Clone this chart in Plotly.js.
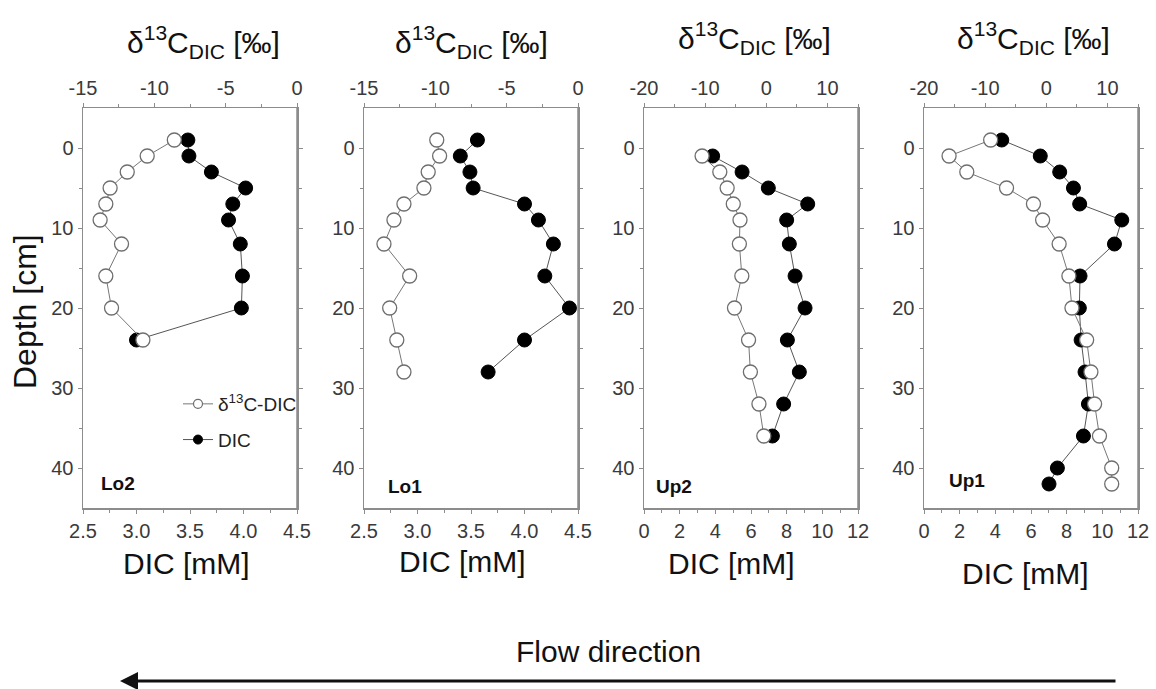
<!DOCTYPE html>
<html>
<head>
<meta charset="utf-8">
<script src="https://cdn.plot.ly/plotly-3.0.1.min.js"></script>
<style>html,body{margin:0;padding:0;background:#fff;}#chart{width:1156px;height:689px;}</style>
</head>
<body>
<div id="chart"></div>
<script>
// ---- data (depth in cm, DIC in mM, delta13C in permil) ----
const panelNames = ["Lo2", "Lo1", "Up2", "Up1"];

const lo2Depth = [-1, 1, 3, 5, 7, 9, 12, 16, 20, 24];
const lo2DIC   = [3.48, 3.49, 3.70, 4.02, 3.90, 3.86, 3.97, 3.99, 3.98, 3.00];
const lo2D13C  = [-8.6, -10.5, -11.9, -13.1, -13.4, -13.8, -12.3, -13.4, -13.0, -10.8];

const lo1Depth = [-1, 1, 3, 5, 7, 9, 12, 16, 20, 24, 28];
const lo1DIC   = [3.56, 3.40, 3.49, 3.52, 4.00, 4.13, 4.27, 4.19, 4.42, 4.00, 3.66];
const lo1D13C  = [-9.9, -9.7, -10.5, -10.8, -12.2, -12.9, -13.6, -11.8, -13.2, -12.7, -12.2];

const up2Depth = [1, 3, 5, 7, 9, 12, 16, 20, 24, 28, 32, 36];
const up2DIC   = [3.85, 5.50, 6.97, 9.18, 8.00, 8.15, 8.47, 9.03, 8.04, 8.71, 7.83, 7.20];
const up2D13C  = [-10.5, -7.6, -6.4, -5.4, -4.3, -4.4, -4.0, -5.2, -2.9, -2.6, -1.2, -0.4];

const up1Depth = [-1, 1, 3, 5, 7, 9, 12, 16, 20, 24, 28, 32, 36, 40, 42];
const up1DIC   = [4.36, 6.52, 7.61, 8.38, 8.73, 11.09, 10.68, 8.75, 8.71, 8.81, 9.03, 9.22, 8.94, 7.48, 7.01];
const up1D13C  = [-9.1, -15.9, -13.0, -6.5, -2.1, -0.6, 2.1, 3.7, 4.2, 6.6, 7.3, 7.9, 8.7, 10.7, 10.7];

const depthTicks = [0, 10, 20, 30, 40];
const dicTicksLo = ["2.5", "3.0", "3.5", "4.0", "4.5"];
const dicTicksUp = ["0", "2", "4", "6", "8", "10", "12"];
const d13TicksLo = ["-15", "-10", "-5", "0"];
const d13TicksUp = ["-20", "-10", "0", "10"];
const dicTickSets = [dicTicksLo, dicTicksLo, dicTicksUp, dicTicksUp];
const d13TickSets = [d13TicksLo, d13TicksLo, d13TicksUp, d13TicksUp];
const dicRanges  = [[2.5, 4.5], [2.5, 4.5], [0, 12], [0, 12]];
const d13Ranges  = [[-15, 0], [-15, 0], [-20, 15], [-20, 15]];

const legendOpen = "δ<sup>13</sup>C-DIC";
const legendFilled = "DIC";
const topTitle = "δ<sup>13</sup>C<sub>DIC</sub> [‰]";
const bottomTitle = "DIC [mM]";
const yTitle = "Depth [cm]";
const flowText = "Flow direction";

// ---- layout helpers ----
const W = 1156, H = 689;
const px = v => v / W;
const py = v => 1 - v / H;
const FONT = "Arial, 'Liberation Sans', sans-serif";
const AXC = "#8c8c8c";
const TXC = "#3a3a3a";

const panelLeft = [83, 364, 644, 924];
const panelWidth = 214;
const plotTop = 108, plotBottom = 508;

const depths = [lo2Depth, lo1Depth, up2Depth, up1Depth];
const dics = [lo2DIC, lo1DIC, up2DIC, up1DIC];
const d13s = [lo2D13C, lo1D13C, up2D13C, up1D13C];

const data = [];
const layout = {
  width: W, height: H,
  margin: {l: 0, r: 0, t: 0, b: 0},
  paper_bgcolor: "#fff", plot_bgcolor: "#fff",
  font: {family: FONT, color: TXC},
  showlegend: true,
  legend: {
    x: px(178), y: py(385), xanchor: "left", yanchor: "top",
    bgcolor: "rgba(0,0,0,0)", borderwidth: 0,
    font: {family: FONT, size: 19, color: "#222"},
    traceorder: "grouped", tracegroupgap: 8
  },
  annotations: [],
  shapes: []
};

function minorMid(vals) {
  const out = [];
  for (let k = 0; k < vals.length - 1; k++) out.push((vals[k] + vals[k + 1]) / 2);
  return out;
}

for (let i = 0; i < 4; i++) {
  const xb = "x" + (2 * i + 1), xt = "x" + (2 * i + 2), yy = "y" + (i + 1);
  const xbKey = "xaxis" + (2 * i + 1), xtKey = "xaxis" + (2 * i + 2), yKey = "yaxis" + (i + 1);
  const dom = [px(panelLeft[i]), px(panelLeft[i] + panelWidth)];
  const common = {
    showline: true, linecolor: AXC, linewidth: 1.5,
    ticks: "outside", ticklen: 4, tickwidth: 1, tickcolor: AXC,
    tickfont: {family: FONT, size: 20, color: TXC},
    showgrid: false, zeroline: false, fixedrange: true
  };
  const dicVals = dicTickSets[i].map(Number);
  const d13Vals = d13TickSets[i].map(Number);
  const d13Minor = minorMid(d13Vals);
  if (i >= 2) d13Minor.push(15);
  layout[xbKey] = Object.assign({}, common, {
    domain: dom, anchor: yy, side: "bottom", range: dicRanges[i],
    tickmode: "array", tickvals: dicVals, ticktext: dicTickSets[i],
    minor: {tickvals: minorMid(dicVals), ticklen: 3, tickcolor: AXC, ticks: "outside"}
  });
  layout[xtKey] = Object.assign({}, common, {
    overlaying: xb, anchor: yy, side: "top", range: d13Ranges[i],
    tickmode: "array", tickvals: d13Vals, ticktext: d13TickSets[i],
    minor: {tickvals: d13Minor, ticklen: 3, tickcolor: AXC, ticks: "outside"}
  });
  layout[yKey] = Object.assign({}, common, {
    domain: [py(plotBottom), py(plotTop)], anchor: xb,
    range: [45, -5], tickvals: depthTicks, mirror: "ticks",
    minor: {tickvals: [5, 15, 25, 35], ticklen: 3, tickcolor: AXC, ticks: "outside"}
  });

  // DIC (filled)
  data.push({
    type: "scatter", mode: "lines+markers",
    x: dics[i], y: depths[i], xaxis: xb, yaxis: yy,
    name: legendFilled, showlegend: false, cliponaxis: false,
    line: {color: "#555", width: 1},
    marker: {symbol: "circle", size: 14, color: "#000", line: {color: "#000", width: 1}}
  });
  // delta13C (open)
  data.push({
    type: "scatter", mode: "lines+markers",
    x: d13s[i], y: depths[i], xaxis: xt, yaxis: yy,
    name: legendOpen, showlegend: false, cliponaxis: false,
    line: {color: "#777", width: 1},
    marker: {symbol: "circle", size: 14, color: "#fff", line: {color: "#6e6e6e", width: 1.3}}
  });

  // right border line
  layout.shapes.push({type: "line", xref: "paper", yref: "paper",
    x0: px(panelLeft[i] + panelWidth), x1: px(panelLeft[i] + panelWidth),
    y0: py(plotTop), y1: py(plotBottom), line: {color: AXC, width: 1.5}});
}

// legend entries (small symbols, as in the reference legend)
data.push({
  type: "scatter", mode: "lines+markers", x: [null], y: [null], xaxis: "x1", yaxis: "y1",
  name: legendOpen, legendgroup: "d13", legendrank: 1, showlegend: true,
  line: {color: "#777", width: 1},
  marker: {symbol: "circle", size: 9, color: "#fff", line: {color: "#6e6e6e", width: 1.2}}
});
data.push({
  type: "scatter", mode: "lines+markers", x: [null], y: [null], xaxis: "x1", yaxis: "y1",
  name: legendFilled, legendgroup: "dic", legendrank: 2, showlegend: true,
  line: {color: "#555", width: 1},
  marker: {symbol: "circle", size: 9, color: "#000", line: {color: "#000", width: 1}}
});

// titles as annotations
const topTitleX = [203, 471, 754, 1033];
const topTitleY = [42, 42, 38, 38];
const botTitleX = [186, 463, 731, 1025];
const botTitleY = [563, 561, 563, 573];
const labelX = [99, 386, 654, 947];
const labelY = [483, 486, 486, 481];
for (let i = 0; i < 4; i++) {
  layout.annotations.push({xref: "paper", yref: "paper", x: px(topTitleX[i]), y: py(topTitleY[i]),
    xanchor: "center", yanchor: "middle", showarrow: false, text: topTitle,
    font: {family: FONT, size: 30, color: "#111"}});
  layout.annotations.push({xref: "paper", yref: "paper", x: px(botTitleX[i]), y: py(botTitleY[i]),
    xanchor: "center", yanchor: "middle", showarrow: false, text: bottomTitle,
    font: {family: FONT, size: 30, color: "#111"}});
  layout.annotations.push({xref: "paper", yref: "paper", x: px(labelX[i]), y: py(labelY[i]),
    xanchor: "left", yanchor: "middle", showarrow: false, text: "<b>" + panelNames[i] + "</b>",
    font: {family: FONT, size: 19, color: "#111"}});
}
layout.annotations.push({xref: "paper", yref: "paper", x: px(25), y: py(312),
  xanchor: "center", yanchor: "middle", showarrow: false, text: yTitle, textangle: -90,
  font: {family: FONT, size: 32, color: "#111"}});
layout.annotations.push({xref: "paper", yref: "paper", x: px(608), y: py(651),
  xanchor: "center", yanchor: "middle", showarrow: false, text: flowText,
  font: {family: FONT, size: 30, color: "#111"}});
layout.annotations.push({xref: "paper", yref: "paper", x: px(120), y: py(681),
  ax: 1117 - 120, ay: 0, text: "", showarrow: true,
  arrowhead: 2, arrowsize: 1.2, arrowwidth: 3, arrowcolor: "#111"});

Plotly.newPlot("chart", data, layout, {staticPlot: true, displayModeBar: false});
</script>
</body>
</html>
